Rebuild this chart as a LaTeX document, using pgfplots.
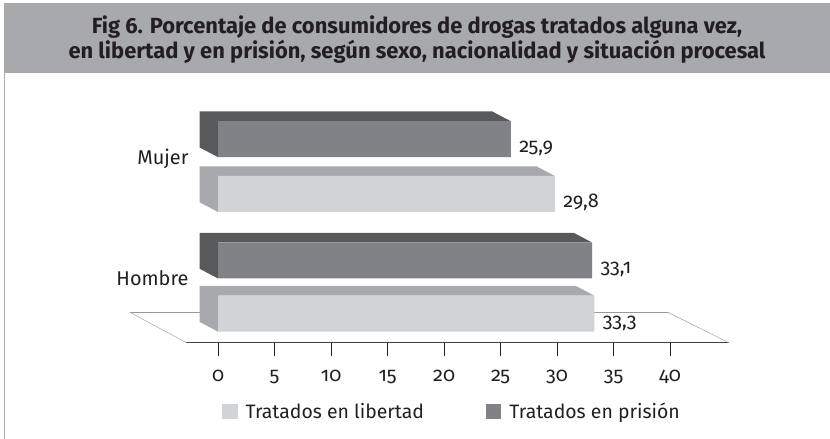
\documentclass[border=0pt]{standalone}
\usepackage{fontspec}
\setmainfont{Fira Sans}[Numbers=OldStyle]
\newfontfamily\titlefont{Fira Sans}
\usepackage{pgfplots}
\pgfplotsset{compat=1.18}
\definecolor{band}{HTML}{A7A9AC}
\definecolor{titlec}{HTML}{231F20}
\definecolor{libf}{HTML}{D1D3D4}
\definecolor{libs}{HTML}{A7A9AC}
\definecolor{prif}{HTML}{808285}
\definecolor{pris}{HTML}{58595B}
\newcommand{\barside}[3]{%
  \pgfmathsetmacro\bsA{#1-1.63}%
  \pgfmathsetmacro\bsB{#2-18}%
  \pgfmathsetmacro\bsC{#2-18+9.7}%
  \pgfmathsetmacro\bsD{#2+18}%
  \pgfmathsetmacro\bsE{#2+18+9.7}%
  \edef\bsTmp{\noexpand\addplot[fill=#3,draw=none,forget plot] coordinates {(0,\bsB) (-1.63,\bsC) (-1.63,\bsE) (\bsA,\bsE) (#1,\bsD) (0,\bsD)};}%
  \bsTmp}
\begin{document}
\begin{tikzpicture}[x=1bp,y=1bp]
\useasboundingbox (0,0) rectangle (830,439);
\fill[band] (4,365.7) rectangle (830,436);
\draw[band, line width=1bp] (4.5,0) -- (4.5,365.7);
\node[anchor=base, text=titlec, font=\titlefont\bfseries\fontsize{22}{24}\selectfont, inner sep=0pt] at (417,405) {Fig 6. Porcentaje de consumidores de drogas tratados alguna vez,};
\node[anchor=base, text=titlec, font=\titlefont\bfseries\fontsize{22}{24}\selectfont, inner sep=0pt] at (417,380.7) {en libertad y en prisión, según sexo, nacionalidad y situación procesal};
\begin{axis}[
  at={(165,96.3)}, anchor=south west,
  scale only axis, x=11.3bp, y=1bp,
  enlargelimits=false,
  xmin=-2.80, xmax=45.19, ymin=96.3, ymax=340,
  clip=false,
  axis x line*=bottom, axis y line*=left,
  y axis line style={draw=none},
  x axis line style={draw=black!75, line width=0.8bp},
  xtick={0,5,...,40}, tick align=outside, major tick length=13.4bp,
  xtick style={draw=titlec, line width=0.8bp},
  xticklabel style={font=\fontsize{20}{24}\selectfont, text=titlec, anchor=base, yshift=-25.6bp, /pgf/number format/assume math mode=true},
  ytick={151.9,272.4}, yticklabels={Hombre,Mujer},
  ytick style={draw=none},
  yticklabel style={font=\fontsize{20}{24}\selectfont, text=titlec, anchor=base east, yshift=2bp, xshift=19bp},
  legend columns=2,
  legend style={at={(0.0656,-0.2831)}, anchor=west, draw=none, fill=none, inner sep=0pt,
    font=\fontsize{19.5}{24}\selectfont, text=titlec,
    /tikz/every odd column/.append style={column sep=6bp},
    /tikz/every even column/.append style={column sep=60bp}},
  every node near coord/.append style={font=\fontsize{20}{24}\selectfont, text=titlec, anchor=base west, yshift=-13.5bp, xshift=5bp},
]
\draw[black!40, line width=0.6bp] (-7.81,126.7) -- (39.80,126.7);
\draw[black!35, line width=0.5bp] (-7.81,126.7) -- (-2.80,96.3);
\draw[black!35, line width=0.5bp] (39.80,126.7) -- (45.19,96.3);
\barside{29.8}{245.0}{libs}
\barside{33.3}{125.3}{libs}
\barside{25.9}{299.8}{pris}
\barside{33.1}{178.5}{pris}
\addplot[xbar, bar width=36bp, bar shift=0pt, fill=libf, draw=none,
  nodes near coords={\pgfmathprintnumber[fixed,fixed zerofill,precision=1,use comma,assume math mode=true]{\pgfplotspointmeta}},
  legend image code/.code={\fill[libf] (0bp,-7.6bp) rectangle (15.4bp,7.6bp);}]
  coordinates {(29.8,245.0) (33.3,125.3)};
\addlegendentry{Tratados en libertad}
\addplot[xbar, bar width=36bp, bar shift=0pt, fill=prif, draw=none,
  nodes near coords={\pgfmathprintnumber[fixed,fixed zerofill,precision=1,use comma,assume math mode=true]{\pgfplotspointmeta}},
  legend image code/.code={\fill[prif] (0bp,-7.6bp) rectangle (15.4bp,7.6bp);}]
  coordinates {(25.9,299.8) (33.1,178.5)};
\addlegendentry{Tratados en prisión}
\end{axis}
\end{tikzpicture}
\end{document}
